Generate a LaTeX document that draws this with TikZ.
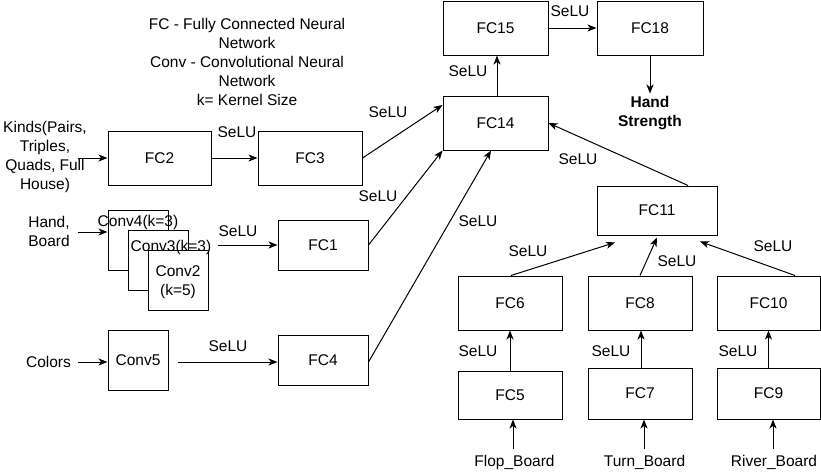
\documentclass[tikz,border=0pt]{standalone}
\usepackage{fontspec}
\setmainfont{Liberation Sans}
\usetikzlibrary{arrows.meta}
\begin{document}
\begin{tikzpicture}[x=1pt,y=-1pt,
  every node/.style={font=\fontsize{15.5}{19}\selectfont, text=black},
  box/.style={draw, line width=1pt, fill=white, inner sep=0pt},
  lbl/.style={inner sep=0pt, align=center},
  arr/.style={line width=1pt, -{Stealth[length=9pt,width=7pt,inset=2.5pt]}}]
\useasboundingbox (0,0) rectangle (821,471);
% boxes
\node[box, minimum width=105pt, minimum height=54pt] (fc15) at (495.5,28) {FC15};
\node[box, minimum width=106pt, minimum height=54pt] (fc18) at (650,28) {FC18};
\node[box, minimum width=105pt, minimum height=54pt] (fc14) at (495.5,123) {FC14};
\node[box, minimum width=120pt, minimum height=49pt] (fc11) at (657,210.5) {FC11};
\node[box, minimum width=104pt, minimum height=54pt] (fc6) at (510,303) {FC6};
\node[box, minimum width=104pt, minimum height=54pt] (fc8) at (640,303) {FC8};
\node[box, minimum width=103pt, minimum height=54pt] (fc10) at (768.5,303) {FC10};
\node[box, minimum width=104pt, minimum height=48pt] (fc5) at (510,395) {FC5};
\node[box, minimum width=104pt, minimum height=51pt] (fc7) at (640,393.5) {FC7};
\node[box, minimum width=103pt, minimum height=51pt] (fc9) at (768.5,393.5) {FC9};
\node[box, minimum width=103pt, minimum height=54pt] (fc2) at (159.5,158) {FC2};
\node[box, minimum width=104pt, minimum height=54pt] (fc3) at (310,158) {FC3};
\node[box, minimum width=90pt, minimum height=50pt] (fc1) at (323,245) {FC1};
\node[box, minimum width=90pt, minimum height=50pt] (fc4) at (323,360) {FC4};
\node[box, minimum width=60pt, minimum height=60pt] (conv4) at (138,240) {};
\node[box, minimum width=60pt, minimum height=60pt] (conv3) at (158,260) {};
\node[box, minimum width=60pt, minimum height=60pt] (conv2) at (178,280) {};
\node[box, minimum width=60pt, minimum height=60pt] (conv5) at (138,360) {Conv5};
% conv labels
\node[lbl] (conv4t) at (138,222) {Conv4(k=3)};
\node[lbl] (conv3t) at (171,247) {Conv3(k=3)};
\node[lbl] (conv2t) at (178,282) {Conv2\\(k=5)};
% free labels
\node[lbl] (legend) at (247,62) {FC - Fully Connected Neural\\Network\\Conv - Convolutional Neural\\Network\\k= Kernel Size};
\node[lbl] (kinds) at (45,156.5) {Kinds(Pairs,\\Triples,\\Quads, Full\\House)};
\node[lbl] (hb) at (49,231) {Hand,\\Board};
\node[lbl] (colors) at (48.5,362) {Colors};
\node[lbl, font=\fontsize{15.5}{19}\selectfont\bfseries] (hs) at (650,113.5) {Hand\\Strength};
\node[lbl] (flop) at (514.5,462) {Flop\_Board};
\node[lbl] (turn) at (644.5,462) {Turn\_Board};
\node[lbl] (river) at (774,462) {River\_Board};
% free ends
\coordinate (kin) at (78,158);
\coordinate (hbe) at (78,232);
\coordinate (cole) at (78,362);
\coordinate (convout) at (218,245);
\coordinate (c5out) at (178,362);
% connectors
\draw[arr] (kin) -- (fc2.west |- kin);
\draw[arr] (fc2) -- (fc3);
\draw[arr] (fc3.east) -- ([yshift=18pt]fc14.west);
\draw[arr] (hbe) -- (conv4.west |- hbe);
\draw[arr] (convout) -- (fc1.west |- convout);
\draw[arr] (fc1.east) -- (fc14.south west);
\draw[arr] (cole) -- (conv5.west |- cole);
\draw[arr] (c5out) -- (fc4.west |- c5out);
\draw[arr] (fc4.east |- c5out) -- ([xshift=-4.5pt]fc14.south);
\draw[arr] ([xshift=1.5pt]fc14.north) -- ([xshift=1.5pt]fc15.south);
\draw[arr] (fc15) -- (fc18);
\draw[arr] (fc18.south) -- ([yshift=3pt]hs.north);
\draw[arr] ([xshift=31pt]fc11.north) -- (fc14.east);
\draw[arr] ([xshift=1pt]fc6.north) -- ([xshift=-42pt,yshift=-7pt]fc11.south);
\draw[arr] (fc8.north) -- ([yshift=-2pt]fc11.south);
\draw[arr] ([xshift=26.5pt]fc10.north) -- ([xshift=43pt,yshift=-6pt]fc11.south);
\draw[arr] (fc5.north) -- (fc6.south);
\draw[arr] ([xshift=1pt]fc7.north) -- ([xshift=1pt]fc8.south);
\draw[arr] (fc9.north) -- (fc10.south);
\draw[arr] ([yshift=6pt,xshift=-1.5pt]flop.north) -- ([xshift=3pt]fc5.south);
\draw[arr] ([yshift=6pt,xshift=-0.5pt]turn.north) -- ([xshift=4pt]fc7.south);
\draw[arr] ([yshift=6pt,xshift=-1pt]river.north) -- ([xshift=4.5pt]fc9.south);
% SeLU labels
\foreach \p [count=\i] in {(237,132),(388,112),(378,196),(238,231),(228,346),(478,221),(468,71),(570,11),(578,159),(528,251),(677,261),(773,246),(478,351),(611,351),(738,351)}
  \node[lbl] (selu\i) at \p {SeLU};
\end{tikzpicture}
\end{document}
